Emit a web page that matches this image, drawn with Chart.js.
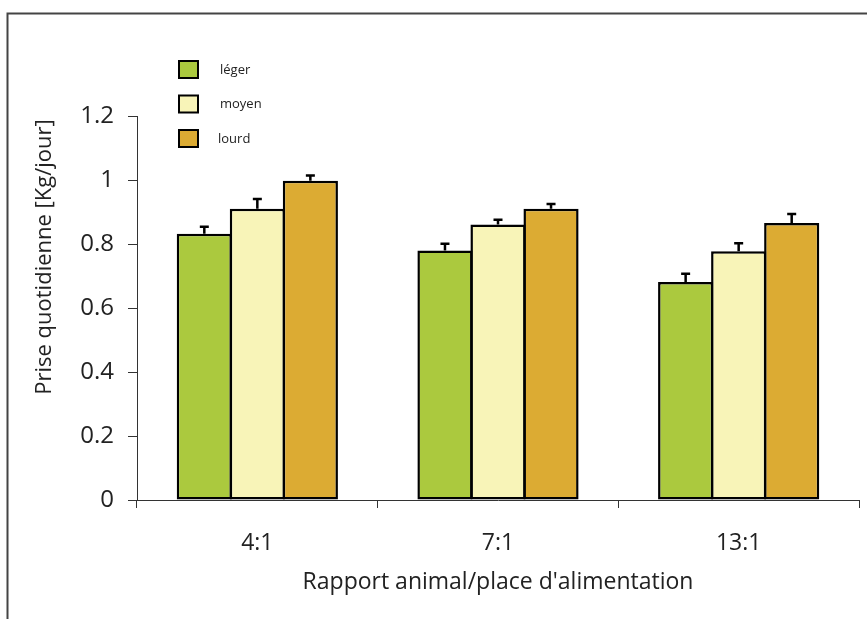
<!DOCTYPE html>
<html>
<head>
<meta charset="utf-8">
<script src="https://cdn.jsdelivr.net/npm/chart.js@4/dist/chart.umd.min.js"></script>
<style>
  html, body { margin: 0; padding: 0; background: #fff; }
  #wrap { width: 867px; height: 619px; }
</style>
</head>
<body>
<div id="wrap"><canvas id="priseChart" width="867" height="619"></canvas></div>
<script>
// Data
const categories = ['4:1', '7:1', '13:1'];
const seriesNames = ['léger', 'moyen', 'lourd'];
const leger = [0.832, 0.78, 0.681];
const moyen = [0.91, 0.861, 0.777];
const lourd = [0.998, 0.91, 0.866];
const legerErr = [0.022, 0.021, 0.026];
const moyenErr = [0.031, 0.015, 0.025];
const lourdErr = [0.016, 0.015, 0.028];
const yTickLabels = ['0', '0.2', '0.4', '0.6', '0.8', '1', '1.2'];

const colors = ['#abc93e', '#f8f4b8', '#dcab33'];
const FONT = '"Open Sans", sans-serif';

// Page frame (top and left lines)
const framePlugin = {
    id: 'frame',
    beforeDraw(chart) {
        const ctx = chart.ctx;
        ctx.save();
        ctx.strokeStyle = '#444';
        ctx.lineWidth = 2;
        ctx.beginPath();
        ctx.moveTo(867, 13.5);
        ctx.lineTo(7.5, 13.5);
        ctx.lineTo(7.5, 619);
        ctx.stroke();
        ctx.restore();
    }
};

// Upper error bars
const errorBarPlugin = {
    id: 'errorBars',
    afterDatasetsDraw(chart) {
        const ctx = chart.ctx;
        const yScale = chart.scales.y;
        ctx.save();
        ctx.strokeStyle = '#000';
        ctx.lineWidth = 2.5;
        chart.data.datasets.forEach((ds, i) => {
            const meta = chart.getDatasetMeta(i);
            meta.data.forEach((bar, j) => {
                const top = yScale.getPixelForValue(ds.data[j] + ds.errors[j]);
                ctx.beginPath();
                ctx.moveTo(bar.x, bar.y);
                ctx.lineTo(bar.x, top);
                ctx.moveTo(bar.x - 4.5, top);
                ctx.lineTo(bar.x + 4.5, top);
                ctx.stroke();
            });
        });
        ctx.restore();
    }
};

// Legend in the upper left and the y axis title
const annotPlugin = {
    id: 'annot',
    afterDraw(chart) {
        const ctx = chart.ctx;
        ctx.save();
        chart.data.datasets.forEach((ds, i) => {
            const y = 61 + i * 34.5;
            ctx.fillStyle = ds.backgroundColor;
            ctx.fillRect(179, y, 19, 17);
            ctx.strokeStyle = '#000';
            ctx.lineWidth = 2;
            ctx.strokeRect(179, y, 19, 17);
            ctx.fillStyle = '#222';
            ctx.font = '13px ' + FONT;
            ctx.textBaseline = 'middle';
            ctx.textAlign = 'left';
            ctx.fillText(ds.label, i === 2 ? 218 : 220, y + 9);
        });

        ctx.translate(45, 257);
        ctx.rotate(-Math.PI / 2);
        ctx.fillStyle = '#222';
        ctx.font = '22px ' + FONT;
        ctx.textAlign = 'center';
        ctx.textBaseline = 'middle';
        ctx.fillText('Prise quotidienne [Kg/jour]', 0, 0);
        ctx.restore();
    }
};

const ctx = document.getElementById('priseChart').getContext('2d');
new Chart(ctx, {
    type: 'bar',
    data: {
        labels: categories,
        datasets: [
            { label: seriesNames[0], data: leger, errors: legerErr },
            { label: seriesNames[1], data: moyen, errors: moyenErr },
            { label: seriesNames[2], data: lourd, errors: lourdErr },
        ].map((ds, i) => ({
            ...ds,
            backgroundColor: colors[i],
            borderColor: '#000',
            borderWidth: 2.5,
            borderSkipped: false,
            categoryPercentage: 0.661,
            barPercentage: 1.04,
        })),
    },
    options: {
        responsive: false,
        animation: false,
        layout: { padding: { top: 116, right: 8, left: 0, bottom: 0 } },
        plugins: {
            legend: { display: false },
            tooltip: { enabled: false },
        },
        scales: {
            x: {
                afterFit(scale) { scale.height = 119; },
                border: { display: true, color: '#333', width: 1 },
                grid: { display: true, drawOnChartArea: false, drawTicks: true, tickLength: 8, color: '#333', offset: true },
                ticks: { color: '#222', font: { family: FONT, size: 23 }, padding: 22 },
                title: {
                    display: true,
                    text: 'Rapport animal/place d\'alimentation',
                    color: '#222',
                    font: { family: FONT, size: 23 },
                    padding: { top: 0, bottom: 23 },
                },
            },
            y: {
                min: 0,
                max: 1.2,
                afterFit(scale) { scale.width = 137; },
                border: { display: true, color: '#333', width: 1 },
                grid: { display: true, drawOnChartArea: false, drawTicks: true, tickLength: 9, color: '#333' },
                ticks: {
                    stepSize: 0.2,
                    color: '#222',
                    font: { family: FONT, size: 24 },
                    padding: 14,
                    callback: (v, i) => yTickLabels[i],
                },
            },
        },
    },
    plugins: [framePlugin, errorBarPlugin, annotPlugin],
});
</script>
</body>
</html>
